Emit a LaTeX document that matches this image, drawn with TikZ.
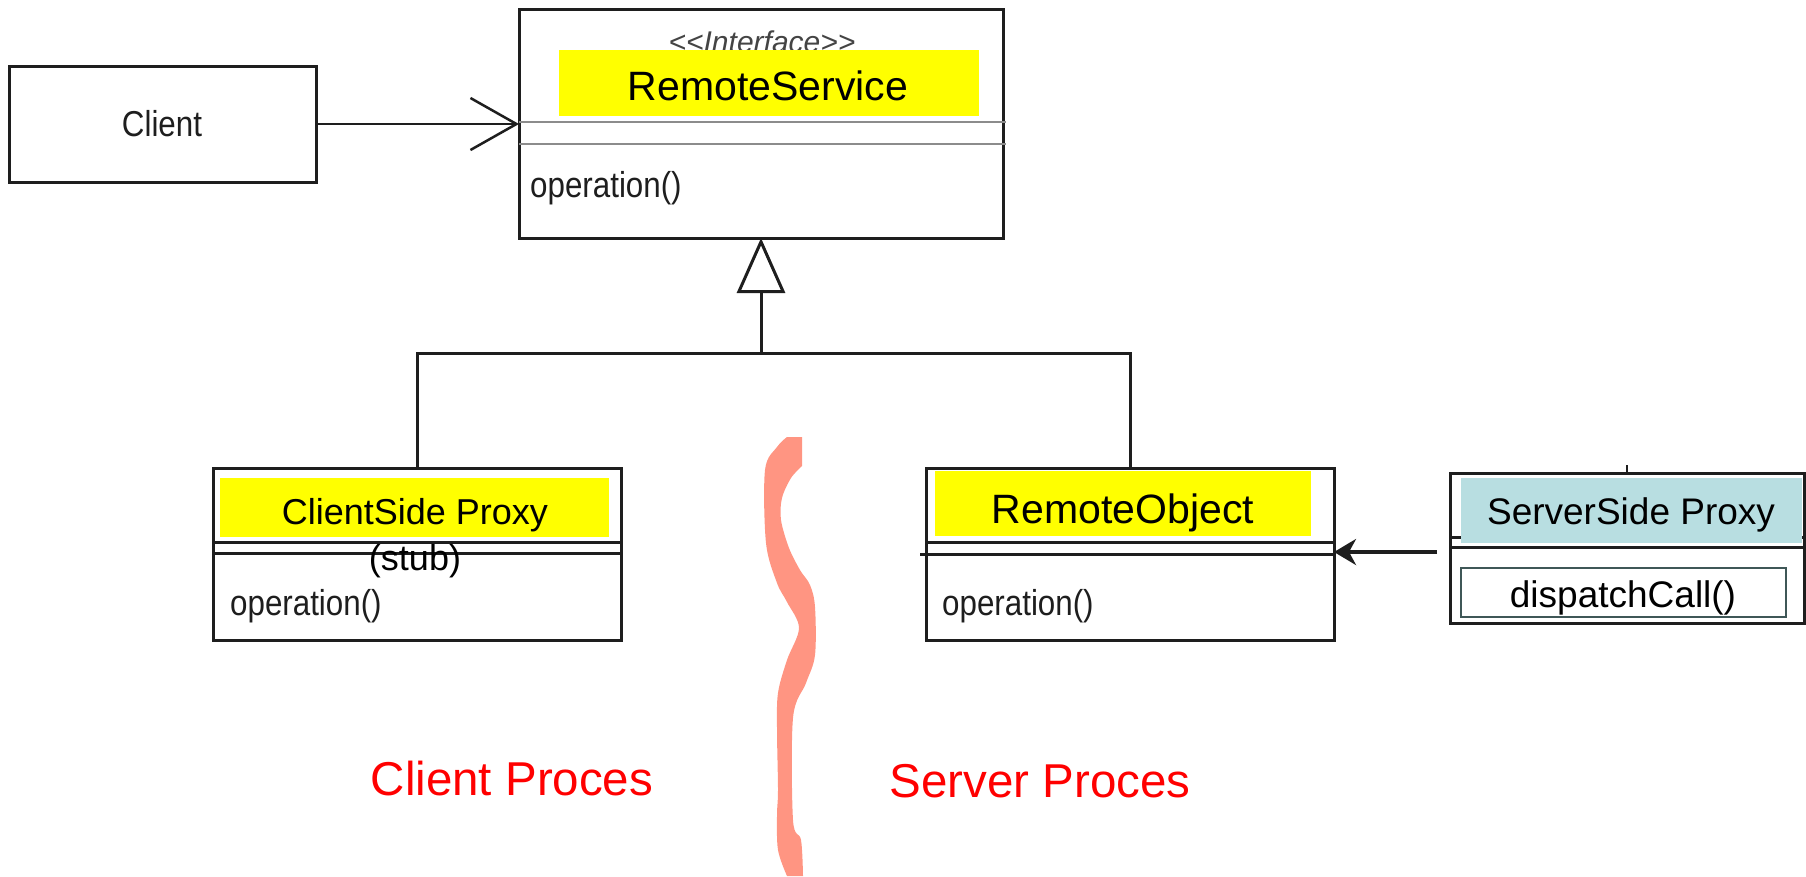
\documentclass[tikz,border=0pt]{standalone}
\usepackage{fontspec}
\setmainfont{Liberation Sans}
\newfontfamily\umlfont[FakeStretch=0.87]{Liberation Sans}
\usetikzlibrary{arrows.meta}

\definecolor{umlink}{HTML}{1E1E1E}
\definecolor{sepgray}{HTML}{8C8C8C}
\definecolor{stereo}{HTML}{444444}
\definecolor{hilite}{HTML}{FFFF00}
\definecolor{proxyblue}{HTML}{B8DEE1}
\definecolor{slateedge}{HTML}{3F5757}
\definecolor{divider}{HTML}{FF9582}
\definecolor{proclabel}{HTML}{FF0000}

\begin{document}
\begin{tikzpicture}[x=1pt,y=-1pt,
  classbox/.style={draw=umlink, line width=3pt, fill=white, rectangle, inner sep=0pt, outer sep=0pt},
  rule/.style={draw=umlink, line width=3pt},
  grayrule/.style={draw=sepgray, line width=2.5pt},
  umltext/.style={font=\umlfont\fontsize{36}{40}\selectfont, text=umlink, inner sep=0pt},
  nametext/.style={font=\fontsize{#1}{#1}\selectfont, text=black, inner sep=0pt, anchor=base},
  proctext/.style={font=\fontsize{47.5}{50}\selectfont, text=proclabel, inner sep=0pt, anchor=base},
  assoc/.style={draw=umlink, line width=2.5pt, -{Straight Barb[length=46pt, width=52pt, line width=2.5pt]}},
  inherit/.style={draw=umlink, line width=3pt},
  realize/.style={draw=umlink, line width=3pt, -{Triangle[open, length=55pt, width=48pt, fill=white, line width=3pt]}},
  calls/.style={draw=umlink, line width=3.5pt, -{Stealth[length=22pt, width=26pt, inset=7pt]}}
]
\useasboundingbox (0,0) rectangle (1806,876);

% class boxes
\node[classbox, minimum width=307pt, minimum height=116pt] (client) at (162.5,124) {};
\node[classbox, minimum width=484pt, minimum height=229pt] (service) at (761,123.5) {};
\node[classbox, minimum width=408pt, minimum height=172pt] (stub) at (417,554) {};
\node[classbox, minimum width=408pt, minimum height=172pt] (remote) at (1130,554) {};
\node[classbox, minimum width=354pt, minimum height=150pt] (skel) at (1627,548) {};

% compartment separators
\draw[grayrule] (519,122) -- (1006,122);
\draw[grayrule] (519,144) -- (1006,144);
\draw[rule] (213,542) -- (621,542);
\draw[rule] (213,553) -- (623,553);
\draw[rule] (926,542) -- (1334,542);
\draw[rule] (920,554) -- (1334,554);
\draw[rule] (1450,537) -- (1804,537);
\draw[rule] (1450,547) -- (1804,547);
\draw[umlink, line width=2pt] (skel.north) -- ++(0,-8);

% stereotype, partly covered by the name band
\node[font=\itshape\fontsize{30}{32}\selectfont, text=stereo, inner sep=0pt, anchor=base] (stype) at (762,52) {<\kern0pt<Interface>\kern0pt>};

% highlighted name bands
\fill[hilite] (559,50) rectangle (979,116);
\fill[hilite] (220,478) rectangle (609,537);
\fill[hilite] (935,471) rectangle (1311,536);
\fill[proxyblue] (1461,478) rectangle (1802,543);

% class names
\node[nametext=41] (svcname) at (768,100) {RemoteService};
\node[nametext=36] (stubname) at (415,524) {ClientSide Proxy};
\node[nametext=36] (stubnote) at (415,570) {(stub)};
\node[nametext=41] (remname) at (1123,523) {RemoteObject};
\node[nametext=37] (skelname) at (1631,524) {ServerSide Proxy};
\node[umltext, anchor=base] (clientname) at (162,136) {Client};

% operations
\node[umltext, anchor=base west] (svcop) at (530,197) {operation()};
\node[umltext, anchor=base west] (stubop) at (230,615) {operation()};
\node[umltext, anchor=base west] (remop) at (942,615) {operation()};
\node[draw=slateedge, line width=2.5pt, minimum width=325pt, minimum height=49pt, inner sep=0pt] (dispatch) at (1623.5,592.5) {};
\node[nametext=37] (dispatchname) at (1623,607) {dispatchCall()};

% relations
\draw[assoc] (client.east) -- (client.east -| service.west);
\coordinate (fork) at (761,353);
\draw[inherit] (stub.north) |- (fork) -| (remote.north);
\draw[realize] (fork) -- (service.south);
\coordinate (callout) at (1437,552);
\draw[calls] (callout) -- (callout -| remote.east);

% process boundary
\fill[divider] (802,437)
  -- plot[smooth, tension=0.55] coordinates {(802,466) (791,478) (782,498) (781,520) (789,548) (800,570) (810,585) (815,607) (815,655) (806,683) (793,718) (793,820) (801,840) (803,876)}
  -- plot[smooth, tension=0.55] coordinates {(787,876) (778,850) (777,815) (778,790) (777,730) (778,693) (787,660) (799,628) (787,602) (777,583) (766,543) (765,470) (777,447) (787,437)}
  -- cycle;

% process labels
\node[proctext] (clientproc) at (512,795) {Client Proces};
\node[proctext] (serverproc) at (1040,797) {Server Proces};
\end{tikzpicture}
\end{document}
